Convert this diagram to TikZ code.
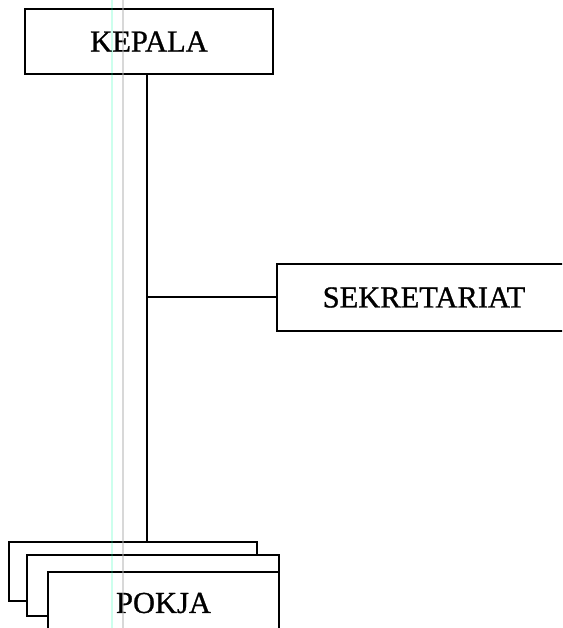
\documentclass[tikz,border=0pt]{standalone}
\usepackage{fontspec}
\setmainfont{Liberation Serif}
\newfontfamily\labelfont{Liberation Serif}[FakeBold=0.9]
\begin{document}
\begin{tikzpicture}[x=1pt,y=-1pt,
  orgbox/.style={draw=black, line width=2pt, fill=white, rectangle, inner sep=0pt,
    font=\labelfont\fontsize{30.5}{30.5}\selectfont},
  link/.style={draw=black, line width=1.8pt}]
  % page frame
  \fill[white] (0,0) rectangle (562,628);
  \useasboundingbox (0,0) rectangle (562,628);
  \clip (0,0) rectangle (562,628);

  % boxes
  \node[orgbox, minimum width=248pt, minimum height=65pt] (kepala) at (149,41.5) {KEPALA};
  \node[orgbox, minimum width=298pt, minimum height=67pt] (sek) at (426,297.5) {\hspace*{-2pt}SEKRETARIAT\hspace*{2pt}};

  % stacked POKJA boxes
  \node[orgbox, minimum width=248pt, minimum height=59pt] (pokjaA) at (133,571.5) {};
  \node[orgbox, minimum width=252pt, minimum height=61pt] (pokjaB) at (153,585.5) {};
  \node[orgbox, minimum width=231pt, minimum height=62pt] (pokja) at (163.5,603) {POKJA};

  % spine and branch
  \coordinate (spine) at (147,0);
  \coordinate (branch) at (147,297);
  \draw[link] (kepala.south -| spine) -- (pokjaA.north -| spine);
  \draw[link] (branch) -- (sek.west |- branch);

  % faint vertical streaks
  \draw[line width=1.2pt, green!35!cyan, opacity=0.2] (112,0) -- (112,628);
  \draw[line width=2.2pt, black!30, opacity=0.5] (123,0) -- (123,628);
\end{tikzpicture}
\end{document}
